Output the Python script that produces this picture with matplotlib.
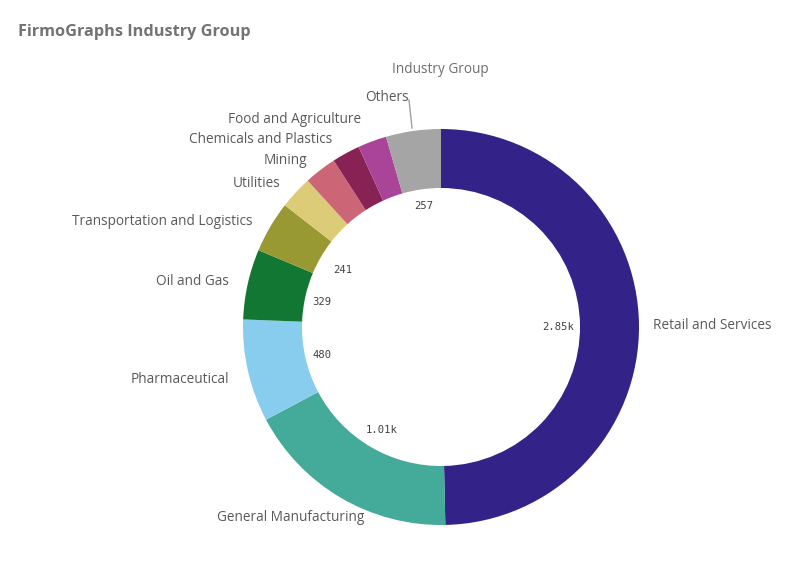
import numpy as np
import matplotlib
matplotlib.use('Agg')
import matplotlib.pyplot as plt

# values, the small unlabelled ones are estimates
categories = ['Retail and Services', 'General Manufacturing', 'Pharmaceutical', 'Oil and Gas',
              'Transportation and Logistics', 'Utilities', 'Mining', 'Chemicals and Plastics',
              'Food and Agriculture', 'Others']
values = [2850, 1010, 480, 329, 241, 155, 152, 131, 135, 257]
value_labels = ['2.85k', '1.01k', '480', '329', '241', '', '', '', '', '257']
colors = ['#332288', '#44AA99', '#88CCEE', '#117733', '#999933', '#DDCC77', '#CC6677', '#882255', '#AA4499', '#A5A5A5']

# where the category names sit, in image pixels
name_x = [653, 291, 229, 229, 252, 281, 307, 332, 361, 409]
name_y = [325.5, 517.5, 379.5, 281.5, 221.5, 183.5, 160, 139.5, 119.5, 97.5]
name_ha = ['left', 'center', 'right', 'right', 'right', 'right', 'right', 'right', 'right', 'right']
# distance of the value labels from the centre
label_r = [117, 118, 122, 122, 114, 0, 0, 0, 0, 123]

H = 563
cx, cy, R = 441, 327, 198
grey = '#595959'

fig = plt.figure(figsize=(8.06, 5.63), dpi=100)
ax = fig.add_axes([0, 0, 1, 1])

wedges, _ = ax.pie(values, colors=colors, startangle=90, counterclock=False,
                   center=(cx, H - cy), radius=R, wedgeprops={'width': 59, 'linewidth': 0})
ax.set_xlim(0, 806)
ax.set_ylim(0, H)
ax.set_aspect('equal')
ax.axis('off')

for i in range(len(wedges)):
    ax.text(name_x[i], H - name_y[i], categories[i], ha=name_ha[i], va='center',
            fontsize=9.8, family='Open Sans', color=grey)
    if value_labels[i] != '':
        w = wedges[i]
        mid = np.deg2rad((w.theta1 + w.theta2) / 2)
        ax.text(cx + label_r[i] * np.cos(mid), H - cy - 1 + label_r[i] * np.sin(mid), value_labels[i],
                ha='center', va='center', fontsize=7.6, family='DejaVu Sans Mono', color='#404040')

# leader line for Others
ax.plot([409, 412], [H - 100, H - 128], color='#a0a0a0', lw=1)

ax.text(440, H - 69.5, 'Industry Group', ha='center', va='center', fontsize=9.8,
        family='Open Sans', color='#6e6e6e')
ax.text(18, H - 32, 'FirmoGraphs Industry Group', ha='left', va='center', fontsize=11.7,
        family='Open Sans', fontweight='bold', color='#737373')

fig.savefig('out.png', dpi=100)
